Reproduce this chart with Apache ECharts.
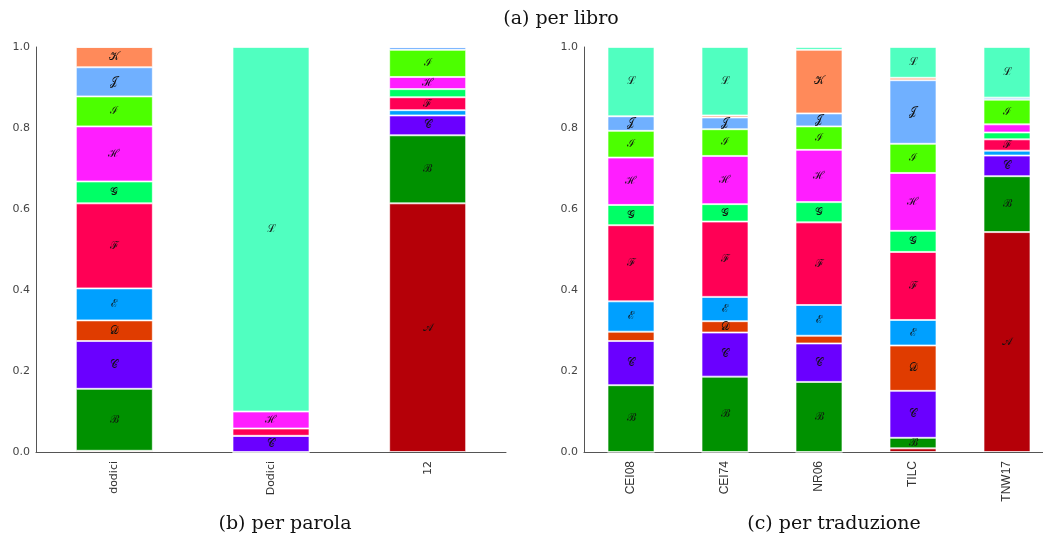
<!DOCTYPE html>
<html>
<head>
<meta charset="utf-8">
<script src="https://cdn.jsdelivr.net/npm/echarts@6/dist/echarts.min.js"></script>
<style>
html,body{margin:0;padding:0;background:#fff;}
#chart{width:1043px;height:541px;}
</style>
</head>
<body>
<div id="chart"></div>
<script>
// ---- data ----
const wordCategories = ['dodici', 'Dodici', '12'];
const translationCategories = ['CEI08', 'CEI74', 'NR06', 'TILC', 'TNW17'];
const yTicks = [0, 0.2, 0.4, 0.6, 0.8, 1.0];
const classNames = ['A', 'B', 'C', 'D', 'E', 'F', 'G', 'H', 'I', 'J', 'K', 'L'];
const classGlyphs = ['𝒜', 'ℬ', '𝒞', '𝒟', 'ℰ', 'ℱ', '𝒢', 'ℋ', 'ℐ', '𝒥', '𝒦', 'ℒ'];
const classColors = ['#b50008', '#009100', '#6a00ff', '#e03c00', '#00a0ff', '#ff0055',
                     '#00ff66', '#ff1eff', '#4cff00', '#70b0ff', '#ff8a5a', '#50ffc0'];

// per parola (dodici, Dodici, 12)
const wordA = [0.003, 0.000, 0.614];
const wordB = [0.153, 0.000, 0.168];
const wordC = [0.118, 0.040, 0.049];
const wordD = [0.051, 0.000, 0.000];
const wordE = [0.079, 0.000, 0.013];
const wordF = [0.210, 0.018, 0.032];
const wordG = [0.054, 0.000, 0.020];
const wordH = [0.136, 0.042, 0.030];
const wordI = [0.074, 0.000, 0.067];
const wordJ = [0.072, 0.000, 0.007];
const wordK = [0.050, 0.000, 0.000];
const wordL = [0.000, 0.900, 0.000];

// per traduzione (CEI08, CEI74, NR06, TILC, TNW17)
const transA = [0.000, 0.000, 0.000, 0.009, 0.543];
const transB = [0.165, 0.186, 0.173, 0.026, 0.138];
const transC = [0.109, 0.109, 0.095, 0.116, 0.051];
const transD = [0.023, 0.028, 0.019, 0.112, 0.000];
const transE = [0.075, 0.060, 0.076, 0.063, 0.012];
const transF = [0.188, 0.186, 0.204, 0.168, 0.028];
const transG = [0.050, 0.043, 0.050, 0.052, 0.017];
const transH = [0.117, 0.119, 0.129, 0.143, 0.020];
const transI = [0.066, 0.066, 0.058, 0.072, 0.061];
const transJ = [0.036, 0.029, 0.032, 0.157, 0.005];
const transK = [0.000, 0.005, 0.157, 0.006, 0.000];
const transL = [0.171, 0.169, 0.007, 0.076, 0.125];

const wordData = [wordA, wordB, wordC, wordD, wordE, wordF, wordG, wordH, wordI, wordJ, wordK, wordL];
const transData = [transA, transB, transC, transD, transE, transF, transG, transH, transI, transJ, transK, transL];

const labelThreshold = 0.025;

// ---- chart ----
const chart = echarts.init(document.getElementById('chart'), null, {renderer: 'canvas'});

function makeSeries(dataSet, axisIndex, stackName, barWidth) {
  return dataSet.map((vals, i) => ({
    name: classNames[i],
    type: 'bar',
    stack: stackName,
    xAxisIndex: axisIndex,
    yAxisIndex: axisIndex,
    barWidth: barWidth,
    data: vals,
    itemStyle: {color: classColors[i], borderColor: 'rgba(255,255,255,0.65)', borderWidth: 1},
    label: {
      show: true,
      position: 'inside',
      color: '#111',
      fontFamily: 'DejaVu Serif, serif',
      fontSize: 11,
      formatter: p => (p.value >= labelThreshold ? classGlyphs[i] : '')
    },
    emphasis: {disabled: true},
    animation: false
  }));
}

const yAxisCommon = {
  type: 'value',
  min: 0,
  max: 1,
  interval: 0.2,
  axisLine: {show: true, lineStyle: {color: '#555', width: 1}},
  axisTick: {show: false},
  splitLine: {show: false},
  axisLabel: {
    color: '#444',
    fontFamily: 'DejaVu Sans, sans-serif',
    fontSize: 11,
    margin: 6,
    formatter: v => v.toFixed(1)
  }
};

const titleStyle = {fontFamily: 'DejaVu Serif, serif', fontSize: 19, fontWeight: 'normal', color: '#111'};

const option = {
  backgroundColor: '#fff',
  animation: false,
  title: [
    {text: '(a) per libro', left: 556, top: 5, textAlign: 'center', textStyle: titleStyle},
    {text: '(b) per parola', left: 280, top: 510, textAlign: 'center', textStyle: titleStyle},
    {text: '(c) per traduzione', left: 829, top: 510, textAlign: 'center', textStyle: titleStyle}
  ],
  grid: [
    {left: 36, top: 47, width: 470, height: 405, outerBoundsMode: 'none', containLabel: false},
    {left: 584, top: 47, width: 470, height: 405, outerBoundsMode: 'none', containLabel: false}
  ],
  xAxis: [
    {type: 'category', gridIndex: 0, data: wordCategories,
     axisLine: {lineStyle: {color: '#555', width: 1}}, axisTick: {show: false},
     axisLabel: {rotate: 90, color: '#333', fontFamily: 'DejaVu Sans, sans-serif', fontSize: 11, margin: 9}},
    {type: 'category', gridIndex: 1, data: translationCategories,
     axisLine: {lineStyle: {color: '#555', width: 1}}, axisTick: {show: false},
     axisLabel: {rotate: 90, color: '#333', fontFamily: 'Liberation Sans, Arial, sans-serif', fontSize: 12, margin: 9}}
  ],
  yAxis: [
    Object.assign({gridIndex: 0}, yAxisCommon),
    Object.assign({gridIndex: 1}, yAxisCommon)
  ],
  series: makeSeries(wordData, 0, 'word', 77).concat(makeSeries(transData, 1, 'trans', 47))
};

chart.setOption(option);
</script>
</body>
</html>
